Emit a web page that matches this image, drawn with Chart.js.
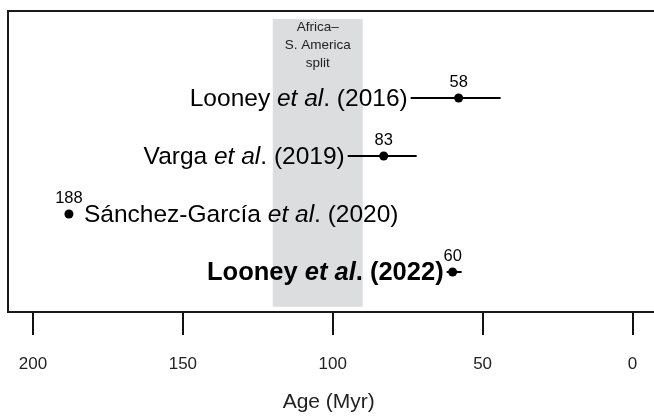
<!DOCTYPE html>
<html>
<head>
<meta charset="utf-8">
<script src="https://cdn.jsdelivr.net/npm/chart.js@4.4.1/dist/chart.umd.min.js"></script>
<style>
  html, body { margin: 0; padding: 0; background: #fff; overflow: hidden; }
  #wrap { width: 654px; height: 416px; }
</style>
</head>
<body>
<div id="wrap"><canvas id="ageChart" width="654" height="416"></canvas></div>
<script>
// Study estimates (ages in Myr)
const studyAuthors = ['Looney', 'Varga', 'Sánchez-García', 'Looney'];
const studyYears = [2016, 2019, 2020, 2022];
const studyRows = [1, 2, 3, 4];
const ageEstimates = [58, 83, 188, 60];
const ageOlder = [74, 95, null, 62];
const ageYounger = [44, 72, null, 57];
const highlightStudy = 3;

// Africa - S. America split band
const splitOlder = 120;
const splitYounger = 90;
const splitRowTop = -0.36;
const splitRowBottom = 4.6;
const splitLabel = ['Africa–', 'S. America', 'split'];

const xTickValues = [200, 150, 100, 50, 0];
const xAxisTitle = 'Age (Myr)';

const FONT = '"Liberation Sans", Arial, Helvetica, sans-serif';

function drawParts(ctx, parts, xPos, yPos, align) {
    const widths = parts.map(p => { ctx.font = p.font; return ctx.measureText(p.text).width; });
    const total = widths.reduce((a, b) => a + b, 0);
    let cx = align === 'right' ? xPos - total : xPos;
    parts.forEach((p, i) => {
        ctx.font = p.font;
        ctx.fillText(p.text, cx, yPos);
        cx += widths[i];
    });
}

const forestPlugin = {
    id: 'forest',
    beforeDatasetsDraw(chart) {
        const { ctx, scales: { x, y } } = chart;
        const x0 = x.getPixelForValue(splitOlder);
        const x1 = x.getPixelForValue(splitYounger);
        const y0 = y.getPixelForValue(splitRowTop);
        const y1 = y.getPixelForValue(splitRowBottom);
        ctx.save();
        // grey band
        ctx.fillStyle = '#dcdddf';
        ctx.fillRect(x0, y0, x1 - x0, y1 - y0);
        ctx.fillStyle = '#222';
        ctx.font = '13.5px ' + FONT;
        ctx.textAlign = 'center';
        ctx.textBaseline = 'middle';
        splitLabel.forEach((t, i) => ctx.fillText(t, (x0 + x1) / 2, y0 + 8.5 + i * 18));

        // error bars
        ctx.strokeStyle = '#000';
        ctx.lineWidth = 2;
        ageOlder.forEach((lo, i) => {
            if (lo == null) return;
            const py = y.getPixelForValue(studyRows[i]);
            ctx.beginPath();
            ctx.moveTo(x.getPixelForValue(lo), py);
            ctx.lineTo(x.getPixelForValue(ageYounger[i]), py);
            ctx.stroke();
        });
        ctx.restore();
    },
    afterDatasetsDraw(chart) {
        const { ctx, scales: { x, y } } = chart;
        ctx.save();
        ctx.fillStyle = '#000';
        ctx.textBaseline = 'middle';
        studyAuthors.forEach((author, i) => {
            const font = i === highlightStudy ? `bold 25.5px ${FONT}` : `24.5px ${FONT}`;
            const parts = [
                { text: author + ' ', font: font },
                { text: 'et al', font: 'italic ' + font },
                { text: `. (${studyYears[i]})`, font: font }
            ];
            const py = y.getPixelForValue(studyRows[i]) + 1;
            ctx.textAlign = 'left';
            if (ageOlder[i] != null) {
                drawParts(ctx, parts, x.getPixelForValue(ageOlder[i]) - 3, py, 'right');
            } else {
                drawParts(ctx, parts, x.getPixelForValue(ageEstimates[i]) + 15, py, 'left');
            }
            // value above the point
            ctx.font = '16.5px ' + FONT;
            ctx.textAlign = 'center';
            ctx.fillText(String(ageEstimates[i]), x.getPixelForValue(ageEstimates[i]), py - 17);
        });
        ctx.restore();
    },
    afterDraw(chart) {
        const { ctx, chartArea: a } = chart;
        ctx.save();
        ctx.strokeStyle = '#1a1a1a';
        ctx.lineWidth = 2;
        ctx.strokeRect(a.left, a.top, a.right - a.left + 20, a.bottom - a.top);
        ctx.restore();
    }
};

const ctx = document.getElementById('ageChart').getContext('2d');
new Chart(ctx, {
    type: 'scatter',
    data: {
        datasets: [{
            label: 'Age estimate',
            data: ageEstimates.map((v, i) => ({ x: v, y: studyRows[i] })),
            backgroundColor: '#000',
            borderWidth: 0,
            pointRadius: 4.5,
            pointHoverRadius: 4.5
        }]
    },
    options: {
        responsive: false,
        animation: false,
        layout: { padding: { left: 8, top: 11, right: 0, bottom: 0 } },
        plugins: {
            legend: { display: false },
            tooltip: { enabled: false }
        },
        scales: {
            x: {
                type: 'linear',
                reverse: true,
                min: -5.67,
                max: 208.33,
                afterBuildTicks: s => { s.ticks = xTickValues.map(v => ({ value: v })); },
                afterFit: s => {
                    s.height = 104;
                    s.paddingLeft = 0;
                    s.paddingRight = 0;
                },
                grid: { drawOnChartArea: false, drawTicks: true, tickLength: 23, color: '#111', lineWidth: 2 },
                border: { display: true, color: '#111', width: 2 },
                ticks: { color: '#222', font: { family: FONT, size: 17 }, padding: 19, maxRotation: 0, autoSkip: false },
                title: { display: true, text: xAxisTitle, color: '#222', font: { family: FONT, size: 21 }, padding: { top: 0, bottom: 1 } }
            },
            y: {
                type: 'linear',
                display: false,
                reverse: true,
                min: -0.5,
                max: 4.69
            }
        }
    },
    plugins: [forestPlugin]
});
</script>
</body>
</html>
